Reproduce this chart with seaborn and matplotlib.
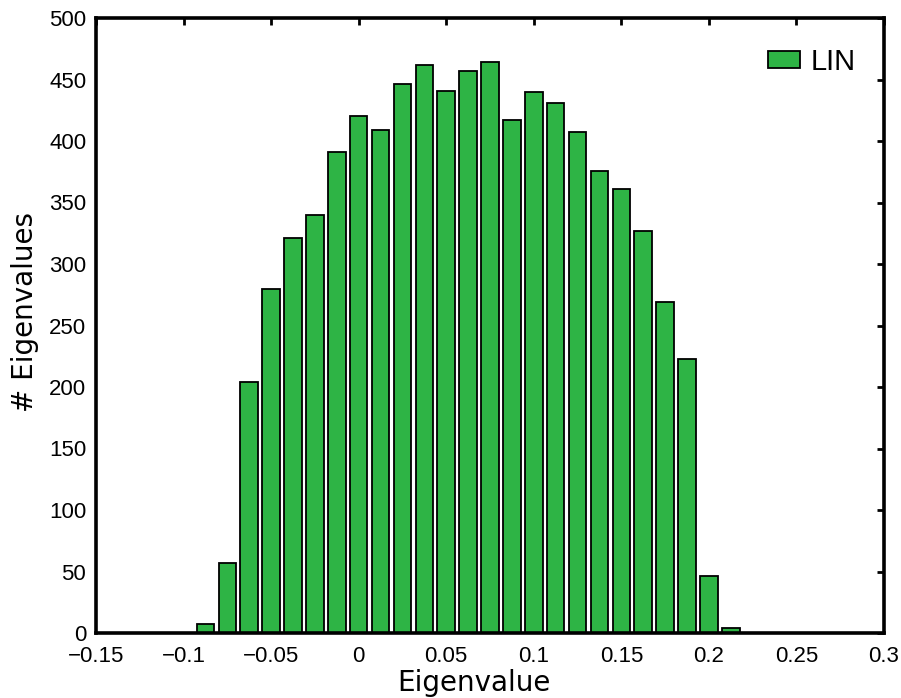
import numpy as np
import pandas as pd
import matplotlib
matplotlib.use("Agg")
import matplotlib.pyplot as plt
import seaborn as sns

# Data
bin_centers = [-0.0875, -0.075, -0.0625, -0.05, -0.0375, -0.025, -0.0125, 0.0,
               0.0125, 0.025, 0.0375, 0.05, 0.0625, 0.075, 0.0875, 0.1,
               0.1125, 0.125, 0.1375, 0.15, 0.1625, 0.175, 0.1875, 0.2, 0.2125]
counts = [7, 57, 204, 280, 321, 340, 391, 420,
          409, 446, 462, 441, 457, 464, 417, 440,
          431, 407, 376, 361, 327, 269, 223, 46, 4]
series_name = "LIN"
x_ticks = [-0.15, -0.1, -0.05, 0, 0.05, 0.1, 0.15, 0.2, 0.25, 0.3]
x_tick_labels = ["\u22120.15", "\u22120.1", "\u22120.05", "0", "0.05", "0.1", "0.15", "0.2", "0.25", "0.3"]
y_ticks = [0, 50, 100, 150, 200, 250, 300, 350, 400, 450, 500]

df = pd.DataFrame({"Eigenvalue": bin_centers, "count": counts})

sns.set_style("white")
plt.rcParams["font.family"] = ["Liberation Sans", "DejaVu Sans"]
plt.rcParams["text.color"] = "black"
plt.rcParams["axes.labelcolor"] = "black"

fig = plt.figure(figsize=(9.01, 6.98), dpi=100)
ax = fig.add_axes([96/901, 65/698, 788/901, 615/698])

sns.barplot(data=df, x="Eigenvalue", y="count", native_scale=True,
            color="#2EB445", saturation=1, edgecolor="black", linewidth=1.3,
            width=0.8, label=series_name, ax=ax, errorbar=None)

ax.set_xlim(-0.15, 0.3)
ax.set_ylim(0, 500)
ax.set_xticks(x_ticks)
ax.set_xticklabels(x_tick_labels)
ax.set_yticks(y_ticks)
ax.tick_params(direction="in", length=5, width=2, top=True, right=True,
               labelsize=16, pad=7, colors="black")
ax.tick_params(axis="x", pad=9)
for s in ax.spines.values():
    s.set_linewidth(2.6)
    s.set_color("black")
    s.set_visible(True)

ax.set_xlabel("Eigenvalue", fontsize=20, family="DejaVu Sans", color="black")
ax.set_ylabel("# Eigenvalues", fontsize=20, family="DejaVu Sans", color="black")
ax.xaxis.set_label_coords(0.48, -0.058)
ax.yaxis.set_label_coords(-0.072, 0.522)

leg = ax.legend(loc="upper right", frameon=False, fontsize=21,
                handlelength=1.1, handleheight=0.5, handletextpad=0.35,
                borderaxespad=0.3, bbox_to_anchor=(0.99, 0.985))
for t in leg.get_texts():
    t.set_color("black")

fig.savefig("out.png", dpi=100)
